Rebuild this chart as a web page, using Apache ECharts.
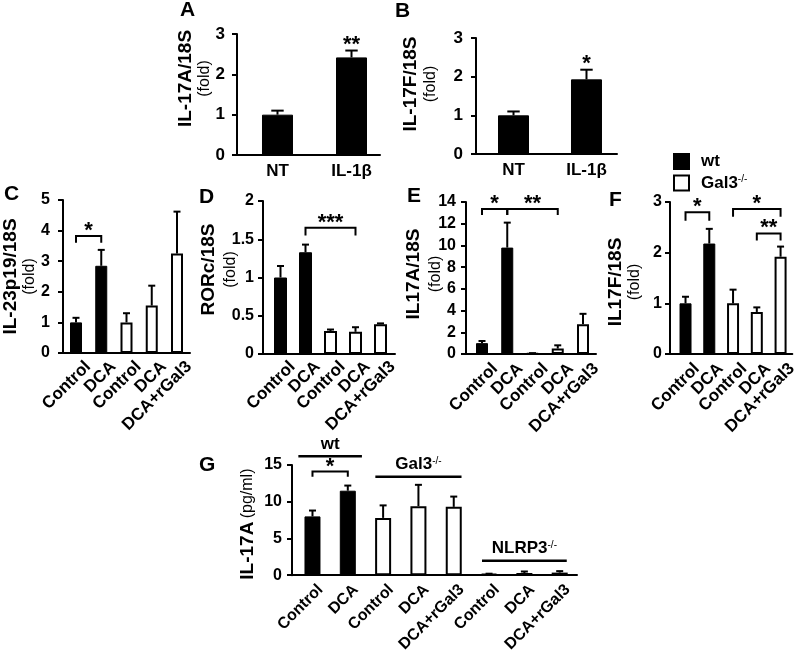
<!DOCTYPE html>
<html><head><meta charset="utf-8">
<script src="https://cdn.jsdelivr.net/npm/echarts@6/dist/echarts.min.js"></script>
<style>html,body{margin:0;padding:0;background:#fff}#c{width:800px;height:655px}</style>
</head><body><div id="c"></div>
<script>
// ---------------- data ----------------
const abCats = ['NT', 'IL-1β'];
const abGeno = ['wt', 'wt'];
const aMean = [1.0, 2.42];
const aErr = [0.1, 0.17];
const aStars = ['', '**'];
const bMean = [1.0, 1.93];
const bErr = [0.1, 0.25];
const bStars = ['', '*'];

const cdefCats = ['Control', 'DCA', 'Control', 'DCA', 'DCA+rGal3'];
const cdefGeno = ['wt', 'wt', 'Gal3', 'Gal3', 'Gal3'];
const cMean = [1.0, 2.85, 1.0, 1.55, 3.25];
const cErr = [0.15, 0.52, 0.3, 0.65, 1.37];
const dMean = [1.0, 1.33, 0.30, 0.29, 0.39];
const dErr = [0.15, 0.10, 0.02, 0.06, 0.01];
const eMean = [1.0, 9.8, 0.05, 0.5, 2.75];
const eErr = [0.2, 2.3, 0.03, 0.3, 0.95];
const fMean = [1.0, 2.18, 1.0, 0.83, 1.92];
const fErr = [0.13, 0.29, 0.27, 0.09, 0.2];

const gCats = ['Control', 'DCA', 'Control', 'DCA', 'DCA+rGal3', 'Control', 'DCA', 'DCA+rGal3'];
const gGeno = ['wt', 'wt', 'Gal3', 'Gal3', 'Gal3', 'NLRP3', 'NLRP3', 'NLRP3'];
const gMean = [8.0, 11.5, 7.8, 9.4, 9.3, 0.15, 0.3, 0.35];
const gErr = [0.8, 0.7, 1.7, 2.9, 1.4, 0.05, 0.2, 0.2];

// significance brackets: [from, to, line level, tick end level, label]
const cSig = [[0, 1, 3.82, 3.6, '*']];
const dSig = [[1, 3, 1.65, 1.55, '***']];
const eSig = [[0, 1, 13.35, 12.8, '*'], [1, 3, 13.35, 12.8, '**']];
const fSig = [[0, 1, 2.8, 2.63, '*'], [2, 4, 2.86, 2.71, '*'], [3, 4, 2.38, 2.24, '**']];
const gSig = [[0, 1, 14.1, 13.4, '*']];

// genotype groups in G: [label, superscript, from, to, level]
const gGroups = [['wt', '', 0, 1, 16.2], ['Gal3', '-/-', 2, 4, 13.4], ['NLRP3', '-/-', 5, 7, 1.96]];

// y-axis titles
const aTitle = 'IL-17A/18S', bTitle = 'IL-17F/18S', cTitle = 'IL-23p19/18S',
      dTitle = 'RORc/18S', eTitle = 'IL17A/18S', fTitle = 'IL17F/18S', gTitle = 'IL-17A';
const foldUnit = '(fold)', gUnit = '(pg/ml)';

// ---------------- layout ----------------
const FONT = '"Liberation Sans", Arial, Helvetica, sans-serif';
const gGroupPad = [0.4, 0.22, 0.2];
const panels = [
  {id:'A', cats:abCats, geno:abGeno, mean:aMean, err:aErr, stars:aStars, sig:[], title:aTitle, unit:foldUnit,
   grid:{left:237, top:34, width:143, height:121}, xMin:-0.547, xMax:1.385, yMax:3, yInt:1, barW:31, rot:0,
   nameGap:23, shift:16, tLH:21, letter:[180, 0], tickFs:17, labFs:17, tickM:12, labShift:0, labM:8},
  {id:'B', cats:abCats, geno:abGeno, mean:bMean, err:bErr, stars:bStars, sig:[], title:bTitle, unit:foldUnit,
   grid:{left:476, top:38, width:141, height:116}, xMin:-0.514, xMax:1.418, yMax:3, yInt:1, barW:31, rot:0,
   nameGap:36, shift:12, tLH:22, letter:[395, 1], tickFs:17, labFs:17, tickM:13, labShift:0, labM:8},
  {id:'C', cats:cdefCats, geno:cdefGeno, mean:cMean, err:cErr, stars:[], sig:cSig, title:cTitle, unit:foldUnit,
   grid:{left:63, top:200, width:127, height:153}, xMin:-0.515, xMax:4.515, yMax:5, yInt:1, barW:12, rot:45,
   nameGap:24, shift:0, tLH:21, letter:[4, 184], tickFs:16, labFs:17, tickM:13, labShift:12, labM:11},
  {id:'D', cats:cdefCats, geno:cdefGeno, mean:dMean, err:dErr, stars:[], sig:dSig, title:dTitle, unit:foldUnit,
   grid:{left:263, top:201, width:132, height:153}, xMin:-0.7, xMax:4.58, yMax:2, yInt:0.5, barW:13, rot:45,
   nameGap:23, shift:8, tLH:27, letter:[199, 187], tickFs:16, labFs:17, tickM:9, labShift:12, labM:10},
  {id:'E', cats:cdefCats, geno:cdefGeno, mean:eMean, err:eErr, stars:[], sig:eSig, title:eTitle, unit:foldUnit,
   grid:{left:466, top:202, width:130, height:152}, xMin:-0.634, xMax:4.515, yMax:14, yInt:2, barW:12, rot:45,
   nameGap:21, shift:4, tLH:27, letter:[407, 186], tickFs:16, labFs:17, tickM:10, labShift:13, labM:12},
  {id:'F', cats:cdefCats, geno:cdefGeno, mean:fMean, err:fErr, stars:[], sig:fSig, title:fTitle, unit:foldUnit,
   grid:{left:670, top:202, width:130, height:152}, xMin:-0.653, xMax:4.495, yMax:3, yInt:1, barW:12, rot:45,
   nameGap:26, shift:-4, tLH:21, letter:[609, 190], tickFs:16, labFs:17, tickM:8, labShift:12, labM:12},
  {id:'G', cats:gCats, geno:gGeno, mean:gMean, err:gErr, stars:[], sig:gSig, title:gTitle, unit:gUnit,
   grid:{left:292, top:465, width:285, height:115}, xMin:-0.58, xMax:7.49, yMax:15, yInt:5, barW:16, rot:45,
   nameGap:34, shift:-4, tLH:21, letter:[199, 455], tickFs:16, labFs:16, tickM:10, labShift:8, labM:12, oneLine:true}
];

const barStyles = {
  wt: {color:'#000', borderColor:'#000', borderWidth:1},
  Gal3: {color:'#fff', borderColor:'#000', borderWidth:2},
  NLRP3: {color:'#fff', borderColor:'#000', borderWidth:2}
};

const option = {
  animation:false,
  backgroundColor:'#fff',
  textStyle:{fontFamily:FONT},
  grid:[], xAxis:[], yAxis:[], series:[], title:[],
  legend:{
    data:['wt', 'Gal3'], orient:'vertical', left:673, top:153, padding:0, itemWidth:15, itemHeight:15, itemGap:4,
    icon:'rect', selectedMode:false,
    formatter: n => n === 'Gal3' ? 'Gal3{s|-/-}' : n,
    textStyle:{fontFamily:FONT, fontSize:17, fontWeight:'bold', color:'#000', padding:[0, 0, 0, 7],
      rich:{s:{fontFamily:FONT, fontSize:10, fontWeight:'normal', verticalAlign:'top', padding:[0,0,8,0]}}}
  }
};

panels.forEach((p, k) => {
  option.grid.push(Object.assign({containLabel:false}, p.grid));
  option.title.push({text:p.id, left:p.letter[0], top:p.letter[1], padding:0,
    textStyle:{fontFamily:FONT, fontSize:21, fontWeight:'bold', color:'#000'}});
  const spacing = p.grid.width / (p.xMax - p.xMin);
  const off = p.labShift / spacing;
  option.xAxis.push({
    type:'value', gridIndex:k, min:p.xMin, max:p.xMax,
    splitLine:{show:false}, axisTick:{show:false},
    axisLine:{show:true, onZero:false, lineStyle:{color:'#000', width:2}},
    axisLabel:{customValues:p.cats.map((c, i) => i + off), formatter: v => p.cats[Math.round(v - off)],
      rotate:p.rot, margin:p.labM, color:'#000', fontFamily:FONT, fontWeight:'bold', fontSize:p.labFs}
  });
  const nm = p.oneLine ? '{t|' + p.title + '} {u|' + p.unit + '}' : '{t|' + p.title + '}\n{u|' + p.unit + '}';
  const pad = p.shift >= 0 ? [0, 0, 0, 2 * p.shift] : [0, -2 * p.shift, 0, 0];
  option.yAxis.push({
    type:'value', gridIndex:k, min:0, max:p.yMax, interval:p.yInt,
    splitLine:{show:false},
    axisLine:{show:true, onZero:false, lineStyle:{color:'#000', width:2}},
    axisTick:{show:true, length:5, lineStyle:{color:'#000', width:2}},
    axisLabel:{color:'#000', fontFamily:FONT, fontWeight:'bold', fontSize:p.tickFs, margin:p.tickM},
    name:nm, nameLocation:'middle', nameRotate:90, nameGap:p.nameGap, nameMoveOverlap:false,
    nameTextStyle:{padding:pad, rich:{
      t:{fontFamily:FONT, fontSize:19, fontWeight:'bold', color:'#000', lineHeight:p.tLH},
      u:{fontFamily:FONT, fontSize:16, fontWeight:'normal', color:'#000', lineHeight:18}
    }}
  });
  // bars, one series per genotype, overlapping positions
  ['wt', 'Gal3', 'NLRP3'].forEach(gname => {
    const d = [];
    p.mean.forEach((m, i) => { if (p.geno[i] === gname) d.push([i, m]); });
    if (!d.length) return;
    option.series.push({
      type:'bar', name:gname, xAxisIndex:k, yAxisIndex:k, data:d, barWidth:p.barW, barGap:'-100%',
      itemStyle:barStyles[gname], z:2
    });
  });
  // error bars
  option.series.push({
    type:'custom', xAxisIndex:k, yAxisIndex:k, z:3, clip:false,
    data:p.mean.map((m, i) => [i, m]),
    renderItem:(params, api) => {
      const i = params.dataIndex;
      const lo = p.mean[i], hi = p.mean[i] + p.err[i];
      const p0 = api.coord([i, lo]), p1 = api.coord([i, hi]);
      const cap = Math.max(3.5, p.barW * 0.2);
      const ch = [
        {type:'line', shape:{x1:p0[0], y1:p0[1], x2:p1[0], y2:p1[1]}, style:{stroke:'#000', lineWidth:2}},
        {type:'line', shape:{x1:p1[0] - cap, y1:p1[1], x2:p1[0] + cap, y2:p1[1]}, style:{stroke:'#000', lineWidth:2}}
      ];
      const s = p.stars[i];
      if (s) ch.push({type:'text', style:{text:s, x:p1[0], y:p1[1] + 5, align:'center', verticalAlign:'bottom',
        font:'bold 22px ' + FONT, fill:'#000'}});
      return {type:'group', children:ch};
    }
  });
  // significance brackets
  if (p.sig.length) {
    option.series.push({
      type:'custom', xAxisIndex:k, yAxisIndex:k, z:3, clip:false,
      data:p.sig.map(s => [s[0], s[2]]),
      renderItem:(params, api) => {
        const s = p.sig[params.dataIndex];
        const a = api.coord([s[0], s[2]]), b = api.coord([s[1], s[2]]);
        const a2 = api.coord([s[0], s[3]]), b2 = api.coord([s[1], s[3]]);
        return {type:'group', children:[
          {type:'polyline', shape:{points:[a2, a, b, b2]}, style:{stroke:'#000', lineWidth:2, fill:null}},
          {type:'text', style:{text:s[4], x:(a[0] + b[0]) / 2, y:a[1] + 6,
            align:'center', verticalAlign:'bottom', font:'bold 22px ' + FONT, fill:'#000'}}
        ]};
      }
    });
  }
  // genotype group lines (G)
  if (p.id === 'G') {
    option.series.push({
      type:'custom', xAxisIndex:k, yAxisIndex:k, z:3, clip:false,
      data:gGroups.map(g => [g[2], g[4]]),
      renderItem:(params, api) => {
        const g = gGroups[params.dataIndex];
        const padC = gGroupPad[params.dataIndex];
        const a = api.coord([g[2] - padC, g[4]]), b = api.coord([g[3] + padC, g[4]]);
        return {type:'group', children:[
          {type:'line', shape:{x1:a[0], y1:a[1], x2:b[0], y2:b[1]}, style:{stroke:'#000', lineWidth:2.5}},
          {type:'text', style:{text:g[0] + (g[1] ? '{s|' + g[1] + '}' : ''), x:(a[0] + b[0]) / 2, y:a[1] - 3,
            align:'center', verticalAlign:'bottom', font:'bold 17px ' + FONT, fill:'#000',
            rich:{s:{font:'normal 10px ' + FONT, verticalAlign:'top', padding:[0,0,8,0], fill:'#000'}}}}
        ]};
      }
    });
  }
});

const chart = echarts.init(document.getElementById('c'), null, {renderer:'canvas'});
chart.setOption(option);
</script>
</body></html>
